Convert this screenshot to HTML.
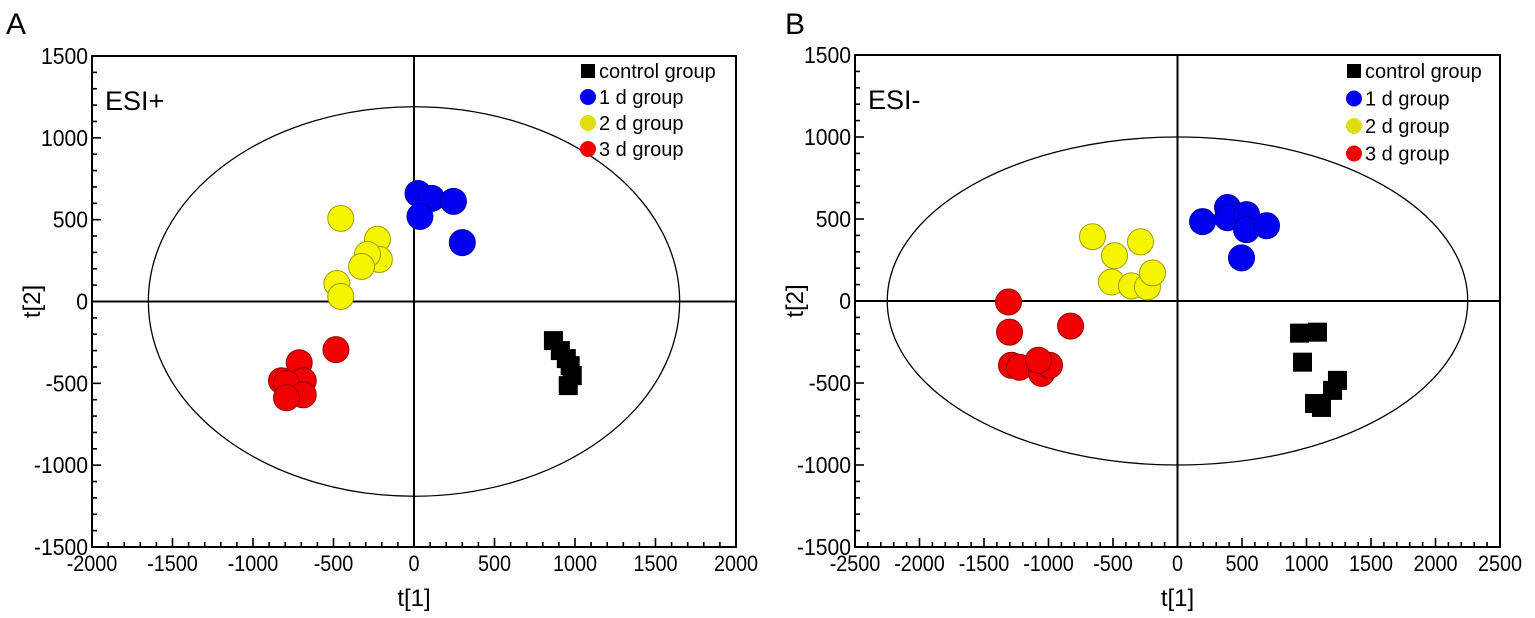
<!DOCTYPE html>
<html><head><meta charset="utf-8"><style>
body{margin:0;background:#fff;}
svg{display:block;font-family:"Liberation Sans",Arial,sans-serif;}
</style></head><body>
<svg id="fig" width="1535" height="618" viewBox="0 0 1535 618"></svg>
<script>
// Panel A (ESI+) data
const aControlX=[866,909,946,970,983,958];
const aControlY=[-239,-300,-349,-392,-453,-514];
const aDay1X=[25,110,245,37,300];
const aDay1Y=[660,630,612,520,360];
const aDay2X=[-455,-227,-215,-289,-326,-479,-455];
const aDay2Y=[508,380,257,288,214,110,31];
const aDay3X=[-485,-713,-688,-823,-792,-688,-792];
const aDay3Y=[-294,-374,-484,-484,-502,-570,-588];
const aXTicks=[-2000,-1500,-1000,-500,0,500,1000,1500,2000];
const aYTicks=[-1500,-1000,-500,0,500,1000,1500];
const aEllipse=[1650,1190];
// Panel B (ESI-) data
const bControlX=[946,1085,969,1240,1202,1062,1116];
const bControlY=[-196,-190,-373,-484,-545,-625,-649];
const bDay1X=[194,388,388,535,535,690,496];
const bDay1Y=[484,570,508,527,435,459,263];
const bDay2X=[-659,-287,-488,-512,-357,-233,-194];
const bDay2Y=[392,361,276,116,92,86,171];
const bDay3X=[-1310,-1302,-829,-1287,-1225,-1054,-992,-1078];
const bDay3Y=[-6,-190,-153,-392,-404,-441,-392,-361];
const bXTicks=[-2500,-2000,-1500,-1000,-500,0,500,1000,1500,2000,2500];
const bYTicks=[-1500,-1000,-500,0,500,1000,1500];
const bEllipse=[2250,1000];
const legendLabels=["control group","1 d group","2 d group","3 d group"];
const colors=["#000","#0000f0","#f5f500","#f00000"];

const NS="http://www.w3.org/2000/svg";
const svg=document.getElementById('fig');
function el(tag,attrs,parent){const e=document.createElementNS(NS,tag);for(const k in attrs)e.setAttribute(k,attrs[k]);(parent||svg).appendChild(e);return e;}

function panel(cfg){
  const g=el('g',{});
  
  
  const X=v=>cfg.x0+(v-cfg.xmin)/(cfg.xmax-cfg.xmin)*(cfg.x1-cfg.x0);
  const Y=v=>cfg.y1-(v-cfg.ymin)/(cfg.ymax-cfg.ymin)*(cfg.y1-cfg.y0);
  const frame=el('rect',{x:cfg.x0,y:cfg.y0,width:cfg.x1-cfg.x0,height:cfg.y1-cfg.y0,fill:'none',stroke:'#000','stroke-width':2},g);
  
  
  for(let v=cfg.xmin;v<=cfg.xmax;v+=100){
    const major=v%500===0;const len=major?9:5;
    const t=el('line',{x1:X(v),x2:X(v),y1:cfg.y1,y2:cfg.y1-len,stroke:'#000','stroke-width':1.6},g);
    
    
  }
  for(let v=cfg.ymin;v<=cfg.ymax;v+=100){
    const major=v%500===0;const len=major?9:5;
    const t=el('line',{x1:cfg.x0,x2:cfg.x0+len,y1:Y(v),y2:Y(v),stroke:'#000','stroke-width':1.6},g);
    
    
  }
  cfg.xticks.forEach(v=>{const t=el('text',{x:X(v),y:cfg.y1+24,'font-size':22,'text-anchor':'middle',transform:`translate(${X(v)},0) scale(0.9,1) translate(${-X(v)},0)`},g);t.textContent=v;
    
    });
  cfg.yticks.forEach(v=>{const t=el('text',{x:cfg.x0-4,y:Y(v)+8,'font-size':23,'text-anchor':'end',transform:`translate(${cfg.x0-4},0) scale(0.92,1) translate(${-(cfg.x0-4)},0)`},g);t.textContent=v;
    
    });
  const zx=el('line',{x1:cfg.x0,x2:cfg.x1,y1:Y(0),y2:Y(0),stroke:'#000','stroke-width':2},g);
  
  
  const zy=el('line',{x1:X(0),x2:X(0),y1:cfg.y0,y2:cfg.y1,stroke:'#000','stroke-width':2},g);
  
  
  const e=el('ellipse',{cx:X(0),cy:Y(0),rx:X(cfg.ell[0])-X(0),ry:Y(0)-Y(cfg.ell[1]),fill:'none',stroke:'#000','stroke-width':1.3},g);
  
  
  const groups=[[cfg.cx,cfg.cy],[cfg.d1x,cfg.d1y],[cfg.d2x,cfg.d2y],[cfg.d3x,cfg.d3y]];
  groups.forEach((gr,gi)=>{
    gr[0].forEach((xv,i)=>{
      let m;
      if(gi===0){m=el('rect',{x:X(xv)-9.5,y:Y(gr[1][i])-9.5,width:19,height:19,fill:'#000'},g);
        }
      else{m=el('circle',{cx:X(xv),cy:Y(gr[1][i]),r:13,fill:colors[gi],stroke:gi===2?'#a0a000':(gi===3?'#900':'#00a'),'stroke-width':1},g);
        }
      
    });
  });
  legendLabels.forEach((lab,i)=>{
    const ly=cfg.ly+i*cfg.lstep;
    let m;
    if(i===0){m=el('rect',{x:cfg.lx-7,y:ly-7,width:14,height:14,fill:'#000'},g);}
    else{m=el('circle',{cx:cfg.lx,cy:ly,r:8,fill:i===2?'#dede10':colors[i]},g);}
    
    
    const t=el('text',{x:cfg.lx+11,y:ly+7,'font-size':20},g);t.textContent=lab;
    
    
  });
  const tag=el('text',{x:cfg.x0+13,y:cfg.y0+54,'font-size':27},g);tag.textContent=cfg.tag;
  
  
  const xt=el('text',{x:X(0),y:606,'font-size':24,'text-anchor':'middle'},g);xt.textContent='t[1]';
  
  
  const yt=el('text',{x:0,y:0,'font-size':24,'text-anchor':'middle',transform:`translate(${cfg.x0-52},${Y(0)}) rotate(-90)`},g);yt.textContent='t[2]';
  
  
  const pl=el('text',{x:cfg.px,y:34,'font-size':30},g);pl.textContent=cfg.letter;
  
  
}
panel({name:'panel-a',x0:92,x1:736,y0:56,y1:547,xmin:-2000,xmax:2000,ymin:-1500,ymax:1500,
  xticks:aXTicks,yticks:aYTicks,ell:aEllipse,cx:aControlX,cy:aControlY,d1x:aDay1X,d1y:aDay1Y,
  d2x:aDay2X,d2y:aDay2Y,d3x:aDay3X,d3y:aDay3Y,lx:588,ly:71,lstep:26,tag:'ESI+',letter:'A',px:6});
panel({name:'panel-b',x0:855,x1:1500,y0:55,y1:547,xmin:-2500,xmax:2500,ymin:-1500,ymax:1500,
  xticks:bXTicks,yticks:bYTicks,ell:bEllipse,cx:bControlX,cy:bControlY,d1x:bDay1X,d1y:bDay1Y,
  d2x:bDay2X,d2y:bDay2Y,d3x:bDay3X,d3y:bDay3Y,lx:1354,ly:71,lstep:27.5,tag:'ESI-',letter:'B',px:785});
</script>
</body></html>
